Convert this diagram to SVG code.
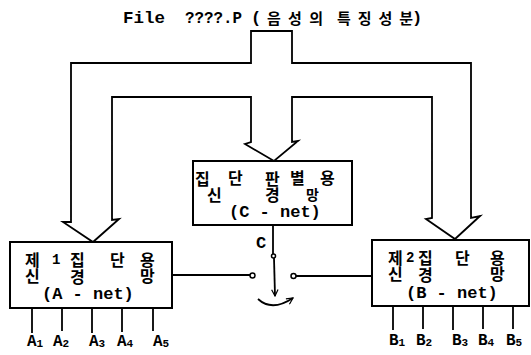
<svg xmlns="http://www.w3.org/2000/svg" width="531" height="355" viewBox="0 0 531 355">
<style>
.ln{fill:none;stroke:#000;stroke-width:1.8;stroke-linejoin:miter}
.box{fill:#fff;stroke:#000;stroke-width:2}
.ko{font-family:"Noto Sans CJK KR","Noto Sans",sans-serif;font-size:16px;font-weight:bold;fill:#000}
.mo{font-family:"Liberation Mono","DejaVu Sans Mono",monospace;font-size:17px;font-weight:bold;fill:#000}
.dg{font-family:"Liberation Mono","DejaVu Sans Mono",monospace;font-size:14px;font-weight:bold}
.lb{font-family:"Liberation Mono","DejaVu Sans Mono",monospace;font-size:16px;font-weight:bold;fill:#000}
.sub{font-size:11px}
.tk{font-family:"Noto Sans CJK KR","Noto Sans",sans-serif;font-size:15px;font-weight:bold;fill:#000}
</style>
<defs>
<marker id="ah" viewBox="0 0 10 10" refX="9" refY="5" markerWidth="8" markerHeight="8" orient="auto" markerUnits="userSpaceOnUse">
<path d="M1,1 L9,5 L1,9" fill="none" stroke="#000" stroke-width="1.5"/>
</marker>
</defs>
<g id="title">
<text class="mo" x="123" y="23" textLength="42" lengthAdjust="spacingAndGlyphs">File</text>
<text class="mo" x="185" y="23" textLength="57" lengthAdjust="spacingAndGlyphs">????.P</text>
<text class="mo" x="251" y="23">(</text>
<text class="tk" x="267" y="24" textLength="56" lengthAdjust="spacing">음성의</text>
<text class="tk" x="337" y="24" textLength="76" lengthAdjust="spacing">특징성분</text>
<text class="mo" x="412" y="23">)</text>
</g>
<g id="connectors">
<path class="ln" d="M112,220 L112,97 L251,97 L251,142 L245,144 L274,161 L298,141 L292,142 L292,97 L432,97 L432,218 L426,219 L455,239 L480,216 L471,218 L471,63 L292,63 L292,31 L251,31 L251,63 L71,63 L71,222 L63,222 L93,242 L119,219 Z"/>
<line class="ln" x1="172" y1="275" x2="250" y2="275"/>
<circle cx="252.5" cy="275.5" r="2.5" fill="#fff" stroke="#000" stroke-width="1.5"/>
<circle cx="293.5" cy="276" r="2.5" fill="#fff" stroke="#000" stroke-width="1.5"/>
<line class="ln" x1="296" y1="276" x2="372" y2="276"/>
<line class="ln" x1="273" y1="225" x2="273" y2="254"/>
<circle cx="273.5" cy="256" r="2" fill="#fff" stroke="#000" stroke-width="1.5"/>
<line class="ln" x1="274" y1="258" x2="275" y2="296" marker-end="url(#ah)"/>
<path class="ln" d="M258,299 Q272,312 293,298" marker-end="url(#ah)"/>
<g id="a-outputs">
<line class="ln" x1="32" y1="308" x2="32" y2="333"/>
<line class="ln" x1="62" y1="308" x2="62" y2="331"/>
<line class="ln" x1="92" y1="308" x2="92" y2="333"/>
<line class="ln" x1="122" y1="308" x2="122" y2="332"/>
<line class="ln" x1="153" y1="308" x2="153" y2="331"/>
</g>
<g id="b-outputs">
<line class="ln" x1="393" y1="306" x2="393" y2="330"/>
<line class="ln" x1="423" y1="306" x2="423" y2="329"/>
<line class="ln" x1="453" y1="306" x2="453" y2="330"/>
<line class="ln" x1="483" y1="306" x2="483" y2="329"/>
<line class="ln" x1="513" y1="306" x2="513" y2="329"/>
</g>
</g>
<g id="C-net">
<rect class="box" x="193" y="161" width="159" height="64"/>
<text class="ko"><tspan x="195" y="185">집</tspan><tspan x="207" y="201">신</tspan><tspan x="228" y="184">단</tspan><tspan x="265" y="185">판</tspan><tspan x="265" y="201">경</tspan><tspan x="290" y="184">별</tspan><tspan x="306" y="200" style="font-size:14px">망</tspan><tspan x="320" y="184">용</tspan></text>
<text class="mo" x="229" y="217">(C - net)</text>
</g>
<g id="A-net">
<rect class="box" x="10" y="242" width="162" height="66"/>
<text class="ko"><tspan x="25" y="266">제</tspan><tspan x="25" y="282">신</tspan><tspan class="dg" x="52" y="264">1</tspan><tspan x="70" y="266">집</tspan><tspan x="70" y="283">경</tspan><tspan x="110" y="266">단</tspan><tspan x="140" y="266">용</tspan><tspan x="140" y="282">망</tspan></text>
<text class="mo" x="42" y="299">(A - net)</text>
</g>
<g id="B-net">
<rect class="box" x="372" y="240" width="157" height="66"/>
<text class="ko"><tspan x="388" y="264">제</tspan><tspan x="388" y="280">신</tspan><tspan class="dg" x="406" y="262">2</tspan><tspan x="418" y="264">집</tspan><tspan x="418" y="281">경</tspan><tspan x="455" y="264">단</tspan><tspan x="490" y="264">용</tspan><tspan x="490" y="280">망</tspan></text>
<text class="mo" x="406" y="298">(B - net)</text>
</g>
<g id="labels">
<text class="mo" x="256" y="248">C</text>
<text class="lb" x="27" y="346">A<tspan class="sub" dy="1">1</tspan></text>
<text class="lb" x="53" y="346">A<tspan class="sub" dy="1">2</tspan></text>
<text class="lb" x="89" y="346">A<tspan class="sub" dy="1">3</tspan></text>
<text class="lb" x="117" y="346">A<tspan class="sub" dy="1">4</tspan></text>
<text class="lb" x="153" y="346">A<tspan class="sub" dy="1">5</tspan></text>
<text class="lb" x="389" y="345">B<tspan class="sub" dy="1">1</tspan></text>
<text class="lb" x="416" y="345">B<tspan class="sub" dy="1">2</tspan></text>
<text class="lb" x="452" y="345">B<tspan class="sub" dy="1">3</tspan></text>
<text class="lb" x="478" y="345">B<tspan class="sub" dy="1">4</tspan></text>
<text class="lb" x="506" y="345">B<tspan class="sub" dy="1">5</tspan></text>
</g>
</svg>
